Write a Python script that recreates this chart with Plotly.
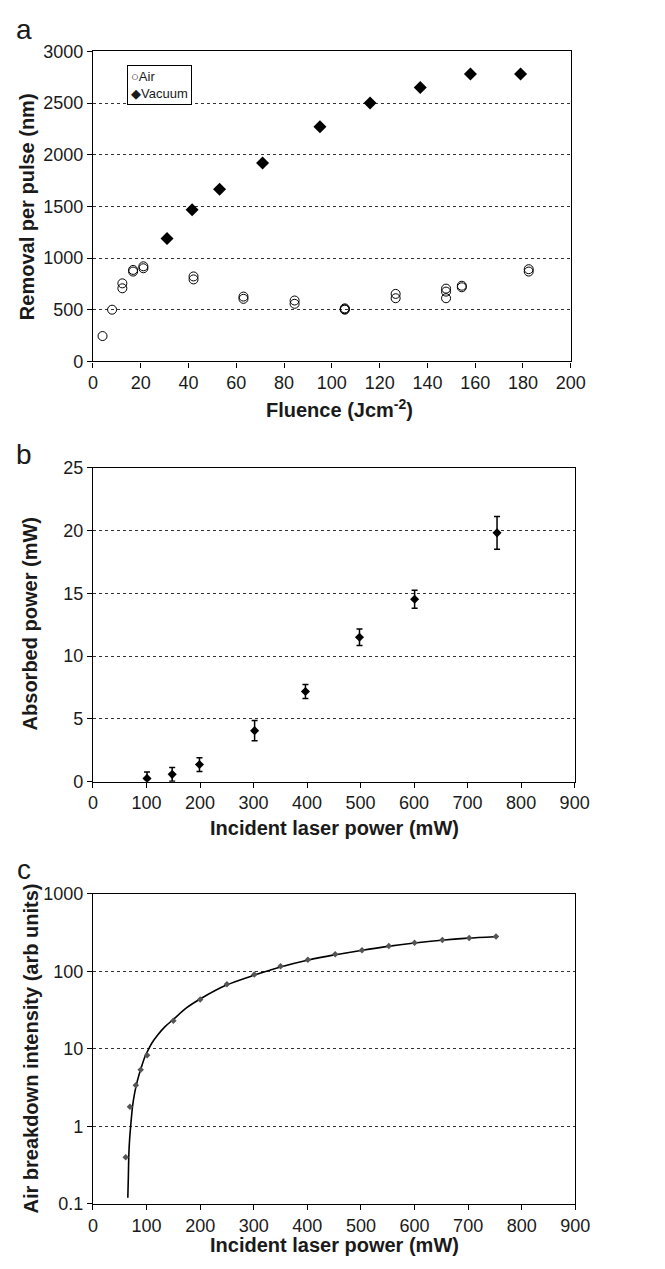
import plotly.graph_objects as go

# ---------------- data ----------------
# Panel a: removal per pulse vs fluence
air_fluence = [4, 8, 12.3, 12.3, 16.8, 16.8, 21.1, 21.1, 42.1, 42.1, 63, 63, 84.4, 84.4,
               105.4, 105.4, 105.4, 126.7, 126.7, 147.8, 147.8, 147.8, 154.4, 154.4, 182.4, 182.4]
air_removal = [245, 500, 755, 707, 885, 869, 920, 901, 822, 793, 627, 605, 589, 557,
               513, 500, 505, 653, 611, 704, 675, 611, 732, 717, 892, 869]
vac_fluence = [31, 41.5, 53, 71, 95, 116, 137, 158, 179]
vac_removal = [1190, 1468, 1665, 1920, 2270, 2500, 2650, 2780, 2780]

# Panel b: absorbed power vs incident laser power
inc_power_b = [101, 148, 199, 302, 397, 498, 601, 755]
absorbed = [0.26, 0.58, 1.36, 4.06, 7.18, 11.5, 14.52, 19.81]
absorbed_err = [0.5, 0.55, 0.55, 0.8, 0.55, 0.65, 0.72, 1.3]

# Panel c: air breakdown intensity vs incident laser power
inc_power_c = [61, 69, 80, 89, 101, 150, 200, 250, 301, 350, 401, 452, 502, 552, 600, 652, 702, 752]
breakdown = [0.40, 1.79, 3.4, 5.37, 8.3, 23, 43.5, 68, 91, 116, 141, 166, 187, 212, 234, 253, 270, 281]
fit_power = [65, 66, 67, 68.5, 70.3, 74, 78, 83, 91, 97, 104, 110, 120, 135, 150, 175, 200, 250,
             300, 350, 400, 450, 500, 550, 600, 650, 700, 750]
fit_intensity = [0.12, 0.22, 0.45, 0.7, 1.0, 1.85, 2.75, 3.9, 6.0, 7.9, 10, 11.9, 14.9, 19.5, 24,
                 34, 44, 67, 89, 114, 139, 163, 186, 210, 232, 252, 268, 280]

# ---------------- figure ----------------
W, H = 665, 1269
FONT = "Liberation Sans, Arial, Helvetica, sans-serif"
TXT = "#1a1a1a"


def px_x(p):
    return p / W


def px_y(p):
    return 1 - p / H


fig = go.Figure()

fig.add_trace(go.Scatter(x=air_fluence, y=air_removal, mode="markers", name="Air",
                         marker=dict(symbol="circle-open", size=9, color="black",
                                     line=dict(width=1, color="black")),
                         xaxis="x", yaxis="y", showlegend=False))
fig.add_trace(go.Scatter(x=vac_fluence, y=vac_removal, mode="markers", name="Vacuum",
                         marker=dict(symbol="diamond", size=10, color="black"),
                         xaxis="x", yaxis="y", showlegend=False))

fig.add_trace(go.Scatter(x=inc_power_b, y=absorbed, mode="markers", name="Absorbed",
                         marker=dict(symbol="diamond", size=7, color="black"),
                         error_y=dict(type="data", array=absorbed_err, visible=True,
                                      color="black", thickness=1.5, width=3),
                         xaxis="x2", yaxis="y2", showlegend=False))

fig.add_trace(go.Scatter(x=fit_power, y=fit_intensity, mode="lines", name="Fit",
                         line=dict(color="black", width=1.6, shape="spline", smoothing=0.8),
                         xaxis="x3", yaxis="y3", showlegend=False))
fig.add_trace(go.Scatter(x=inc_power_c, y=breakdown, mode="markers", name="Breakdown",
                         marker=dict(symbol="diamond", size=5, color="#555555"),
                         xaxis="x3", yaxis="y3", showlegend=False))

axis_common = dict(showline=True, mirror=True, linecolor="black", linewidth=1.3,
                   ticks="outside", ticklen=5, tickwidth=1, tickcolor="black",
                   zeroline=False, tickfont=dict(family=FONT, size=18, color=TXT))
x_common = dict(axis_common, showgrid=False)
y_common = dict(axis_common, showgrid=True, gridcolor="#333333", gridwidth=1, griddash="dot")

dom_a_y = [px_y(357), px_y(42)]
dom_b_y = [px_y(784), px_y(465)]
dom_c_y = [px_y(1213), px_y(898)]

fig.update_layout(
    width=W, height=H,
    margin=dict(l=0, r=0, t=0, b=0),
    paper_bgcolor="white", plot_bgcolor="white",
    font=dict(family=FONT, color=TXT),
    showlegend=False,
    xaxis=dict(x_common, domain=[px_x(90.7), px_x(583.3)], range=[0, 200],
               tickvals=list(range(0, 201, 20)), anchor="y"),
    yaxis=dict(y_common, domain=dom_a_y, range=[0, 3000],
               tickvals=list(range(0, 3001, 500)), anchor="x"),
    xaxis2=dict(x_common, domain=[px_x(90.7), px_x(587.3)], range=[0, 900],
                tickvals=list(range(0, 901, 100)), anchor="y2"),
    yaxis2=dict(y_common, domain=dom_b_y, range=[0, 25],
                tickvals=list(range(0, 26, 5)), anchor="x2"),
    xaxis3=dict(x_common, domain=[px_x(90.7), px_x(588)], range=[0, 900],
                tickvals=list(range(0, 901, 100)), anchor="y3"),
    yaxis3=dict(y_common, domain=dom_c_y, type="log", range=[-1, 3],
                tickvals=[0.1, 1, 10, 100, 1000],
                ticktext=["0.1", "1", "10", "100", "1000"], anchor="x3"),
)

ann = []
title_font = dict(family=FONT, size=20, color=TXT)
# panel letters
for letter, yy in (("a", 20), ("b", 452), ("c", 873)):
    ann.append(dict(text=letter, x=px_x(20), y=px_y(yy), xref="paper", yref="paper",
                    xanchor="center", yanchor="middle", showarrow=False,
                    font=dict(family=FONT, size=28, color=TXT)))
# x titles
ann.append(dict(text="<b>Fluence (Jcm<sup>-2</sup>)</b>", x=px_x(345), y=px_y(405),
                xref="paper", yref="paper", xanchor="center", yanchor="middle",
                showarrow=False, font=title_font))
ann.append(dict(text="<b>Incident laser power (mW)</b>", x=px_x(340), y=px_y(831),
                xref="paper", yref="paper", xanchor="center", yanchor="middle",
                showarrow=False, font=title_font))
ann.append(dict(text="<b>Incident laser power (mW)</b>", x=px_x(340), y=px_y(1255),
                xref="paper", yref="paper", xanchor="center", yanchor="middle",
                showarrow=False, font=title_font))
# y titles
ann.append(dict(text="<b>Removal per pulse (nm)</b>", x=px_x(23), y=px_y(200),
                xref="paper", yref="paper", xanchor="center", yanchor="middle",
                textangle=-90, showarrow=False, font=title_font))
ann.append(dict(text="<b>Absorbed power (mW)</b>", x=px_x(26), y=px_y(624),
                xref="paper", yref="paper", xanchor="center", yanchor="middle",
                textangle=-90, showarrow=False, font=title_font))
ann.append(dict(text="<b>Air breakdown intensity (arb units)</b>", x=px_x(27), y=px_y(1055),
                xref="paper", yref="paper", xanchor="center", yanchor="middle",
                textangle=-90, showarrow=False, font=title_font))
# legend box for panel a
ann.append(dict(text="○Air<br>◆Vacuum", x=px_x(126), y=px_y(56),
                xref="paper", yref="paper", xanchor="left", yanchor="top", align="left",
                showarrow=False, bordercolor="black", borderwidth=1, borderpad=3,
                bgcolor="white", font=dict(family=FONT, size=13, color=TXT)))

fig.update_layout(annotations=ann)

fig.write_html("out.html")
